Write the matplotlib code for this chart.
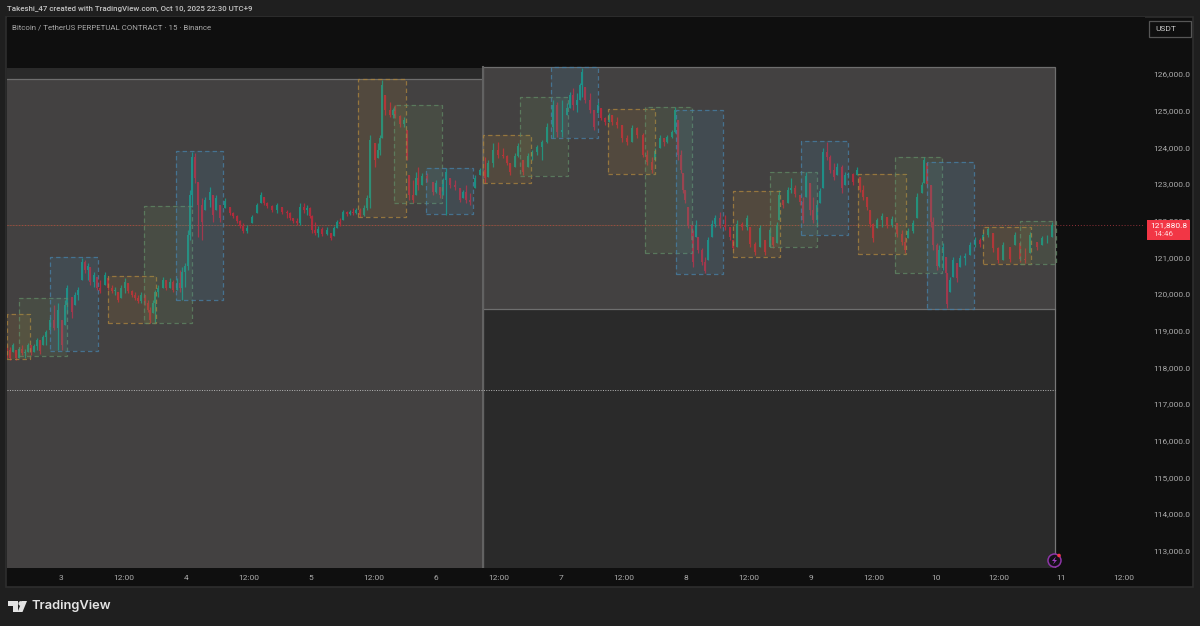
import numpy as np
import matplotlib
matplotlib.use("Agg")
import matplotlib.pyplot as plt
from matplotlib.patches import Rectangle, Polygon, Circle

# 15m BTC candles (day of Oct 2025, price)
bar_day = [2.568,2.592,2.616,2.640,2.664,2.688,2.712,2.736,2.760,2.784,2.808,2.832,2.856,2.880,2.912,2.944,2.976,3.008,3.032,3.048,
    3.088,3.112,3.136,3.168,3.192,3.216,3.232,3.264,3.288,3.312,3.352,3.376,3.408,3.432,3.456,3.480,3.512,3.536,3.568,3.592,
    3.616,3.640,3.672,3.696,3.712,3.736,3.752,3.776,3.816,3.840,3.872,3.896,3.928,3.952,3.968,3.992,4.016,4.032,4.048,4.072,
    4.096,4.128,4.152,4.192,4.216,4.240,4.272,4.312,4.352,4.376,4.408,4.432,4.456,4.488,4.528,4.568,4.600,4.624,4.648,4.688,
    4.728,4.768,4.808,4.832,4.856,4.888,4.912,4.944,4.968,4.992,5.008,5.032,5.056,5.088,5.128,5.160,5.184,5.208,5.232,5.256,
    5.288,5.312,5.336,5.360,5.392,5.424,5.448,5.472,5.512,5.536,5.552,5.568,5.592,5.632,5.656,5.672,5.712,5.744,5.768,5.784,
    5.816,5.840,5.856,5.888,5.928,5.976,6.000,6.032,6.056,6.080,6.112,6.152,6.192,6.216,6.240,6.272,6.312,6.352,6.392,6.416,
    6.456,6.496,6.536,6.568,6.592,6.632,6.656,6.696,6.736,6.768,6.808,6.848,6.888,6.936,6.968,7.008,7.048,7.072,7.096,7.128,
    7.152,7.168,7.192,7.232,7.264,7.296,7.320,7.352,7.384,7.408,7.448,7.488,7.528,7.568,7.608,7.656,7.688,7.728,7.752,7.792,
    7.824,7.848,7.888,7.912,7.936,7.960,7.976,7.992,8.016,8.048,8.056,8.080,8.096,8.128,8.152,8.176,8.208,8.232,8.272,8.312,
    8.352,8.376,8.408,8.448,8.488,8.512,8.552,8.592,8.632,8.672,8.696,8.728,8.744,8.776,8.816,8.840,8.872,8.912,8.936,8.960,
    8.992,9.016,9.048,9.072,9.096,9.128,9.152,9.184,9.208,9.248,9.272,9.296,9.336,9.368,9.392,9.416,9.448,9.472,9.496,9.528,
    9.568,9.608,9.648,9.688,9.728,9.752,9.776,9.816,9.848,9.888,9.904,9.928,9.960,9.976,10.008,10.024,10.056,10.080,10.088,10.112,
    10.136,10.168,10.192,10.232,10.272,10.312,10.352,10.376,10.416,10.456,10.496,10.536,10.592,10.632,10.672,10.712,10.752,10.808,10.848,10.888,
    10.928]
bar_high = [118610,118560,118660,118470,118560,118610,118500,118660,118610,118640,118800,118750,118880,119020,119370,119700,119750,119290,119840,120250,
    119920,120050,120190,120980,120930,120840,120740,120600,120460,120380,120600,120440,120250,120190,120050,120250,120440,120300,120110,120050,
    119970,120050,119970,119840,119650,119840,120110,120250,120460,120380,120440,120380,120440,120650,120740,120840,121740,122830,123870,123840,
    123050,122620,122640,122920,122700,122700,122430,122620,122370,122230,122150,122020,121930,121880,122150,122480,122780,122640,122510,122430,
    122480,122370,122290,122230,122070,122070,122480,122480,122430,122370,122150,121960,121850,121830,121830,121660,121850,122020,122070,122290,
    122260,122290,122340,122340,122340,122430,122700,124330,124110,124110,124330,125830,125420,125230,125070,125150,124880,124820,124470,123240,
    123110,123320,123460,123300,123300,123050,123110,122920,123160,123430,123160,123110,122890,122830,122970,122750,123240,123430,123730,123650,
    124110,124140,123980,123790,123570,123840,124110,123650,123840,123920,124060,124200,124660,125290,125230,125290,125210,125500,125610,125480,
    125750,126160,125640,125480,125010,125230,125070,124820,124930,124880,124820,124600,124330,124600,124550,124390,123920,123730,123980,124330,
    124250,124330,124470,125100,124740,123920,123300,122830,122370,121930,121740,122020,121550,121250,121010,121550,122020,122150,122230,122150,
    121830,121470,122020,121960,122150,121830,121420,121880,121470,121830,121550,121960,122830,122560,122920,123160,122970,122700,122640,123320,
    123020,122640,122560,122890,123980,124140,123790,123570,123570,123520,123320,123320,123300,123460,123190,122970,122640,122290,121930,122070,
    122210,122100,122130,121930,121740,121550,121800,122020,122750,123050,123730,123570,122970,122100,121390,121340,121390,121010,120570,120460,
    121010,120840,121060,121120,121420,121550,121530,121690,121830,121660,121280,121420,121280,121690,121390,121250,121690,121420,121580,121610,
    121960]
bar_low = [118260,118200,118420,118200,118260,118340,118260,118420,118340,118420,118470,118370,118610,118610,119020,119020,118470,118470,119160,119480,
    119350,119700,119840,120380,120570,120380,120250,120190,120110,120030,120250,120110,120030,119970,119780,119890,120030,120030,119920,119840,
    119750,119750,119700,119510,119210,119480,119210,119920,120160,120110,120160,120050,120110,120050,119840,120190,120650,121470,122370,123020,
    121550,121470,122290,122370,121960,122290,121960,122340,122150,122070,121930,121800,121660,121660,121930,122210,122480,122430,122340,122230,
    122210,122180,122070,122020,121930,121880,121880,122210,122150,122070,121660,121610,121550,121590,121610,121470,121590,121800,121850,122020,
    122130,122150,122150,122180,122100,122130,122290,122340,123460,123710,123790,124250,124880,124820,124790,124790,124550,124550,123650,122560,
    122480,122700,122830,122970,123050,122700,122750,122620,122700,122150,122890,122830,122510,122620,122480,122430,122890,123240,123020,123190,
    123460,123710,123710,123520,123240,123460,123730,123240,123460,123650,123790,123650,124110,124250,124280,124280,124880,125070,125010,124960,
    125290,125370,125210,124930,124470,124930,124740,124600,124690,124600,124520,124140,124060,124140,124250,123730,123520,123300,123650,123980,
    124030,124110,124250,124390,123650,123300,122750,122480,121800,121390,120740,121550,121120,120790,120570,120930,121550,121830,121800,121740,
    121470,121200,121280,121740,121740,121280,121060,121280,121060,121280,121250,121390,122020,122340,122480,122750,122640,122430,121930,122640,
    122150,121930,121830,122480,122890,123650,123300,123110,123240,122750,122970,123160,122970,123240,122780,122560,122290,121830,121420,121800,
    121830,121800,121830,121550,121340,121120,121530,121660,122070,122750,123020,122920,121830,121200,120650,120740,120650,120460,119620,120050,
    120460,120330,120740,120790,121060,121280,121280,121470,121550,121140,120840,120930,120870,121340,120870,120840,121120,121200,121340,121390,
    121550]
bar_close = [118470,118260,118610,118260,118500,118390,118420,118610,118420,118580,118750,118450,118830,118960,119290,119070,119560,118610,119700,120160,
    119510,119970,120110,120870,120650,120760,120330,120520,120160,120080,120520,120160,120080,120110,119840,120160,120330,120080,119970,119890,
    119810,119970,119750,119560,119290,119750,120050,120160,120380,120160,120330,120110,120300,120160,120600,120760,121610,122700,123730,123160,
    122430,121960,122560,122780,122150,122620,122070,122530,122210,122130,121990,121850,121720,121800,122100,122430,122700,122480,122400,122290,
    122430,122230,122210,122070,121990,121930,122370,122290,122340,122130,121740,121660,121770,121640,121740,121530,121800,121960,121910,122230,
    122180,122230,122210,122290,122150,122340,122620,124200,123650,123920,124250,125700,125010,124880,125010,124850,124640,124740,123710,122700,
    122560,123160,122970,123220,123110,122780,123020,122700,123110,123320,122970,122920,122560,122780,122560,122510,123160,123380,123160,123570,
    123920,123790,123760,123570,123320,123760,124030,123320,123760,123870,124010,124140,124550,125150,124410,124470,125070,125420,125150,125290,
    125700,126050,125290,125010,124550,125150,124800,124690,124880,124690,124600,124250,124140,124520,124330,123790,123600,123380,123900,124250,
    124140,124280,124410,125010,123790,123380,122830,122560,121880,121470,120870,121880,121200,120870,120630,121470,121910,122070,121880,121830,
    121550,121250,121910,121830,122070,121360,121140,121800,121140,121740,121340,121880,122700,122430,122830,122890,122730,122510,122020,123220,
    122290,122020,122430,122810,123870,123730,123380,123190,123460,122890,123240,123270,123050,123380,122830,122640,122370,121910,121530,122020,
    122130,121880,122040,121640,121420,121200,121720,121930,122640,122970,123650,123000,121960,121340,120760,121200,121280,120570,119730,120380,
    120930,120440,120980,121040,121340,121470,121360,121610,121770,121250,120930,121340,120950,121610,120950,120930,121610,121280,121530,121530,
    121880]

# dashed zones, oldest first, kinds repeat orange / green / blue
zone_kind = ["o","g","b"] * 7 + ["o","g"]
zone_left = [2.568,2.664,2.912,3.376,3.664,3.920,5.376,5.664,5.920,6.376,6.672,6.920,7.376,7.672,7.920,8.376,8.672,8.920,9.376,9.672,9.928,10.376,10.672]
zone_right = [2.752,3.048,3.296,3.760,4.048,4.296,5.760,6.048,6.296,6.760,7.056,7.296,7.752,8.048,8.296,8.752,9.048,9.296,9.760,10.048,10.304,10.760,10.960]
zone_top = [119460,119890,121010,120490,122400,123900,125860,125150,123430,124330,125370,126190,125040,125100,125010,122810,123320,124170,123270,123730,123600,121830,121990]
zone_bottom = [118230,118310,118450,119210,119210,119840,122100,122480,122180,123020,123220,124250,123270,121120,120550,121010,121280,121610,121090,120570,119590,120820,120820]

price_ticks = list(range(113000, 127000, 1000))
time_ticks = [3,3.5,4,4.5,5,5.5,6,6.5,7,7.5,8,8.5,9,9.5,10,10.5,11,11.5]
time_labels = ["3","12:00","4","12:00","5","12:00","6","12:00","7","12:00","8","12:00","9","12:00","10","12:00","11","12:00"]
last_price = 121880
range_mid = 117380

BG = "#1f1f1f"
PANE = "#0f0f0f"
TXT = "#adadad"
plt.rcParams["font.family"] = ["Roboto", "DejaVu Sans"]

W, H = 1200, 626
fig = plt.figure(figsize=(W / 100, H / 100), dpi=100, facecolor=BG)

# dark pane behind axes and scales
fig.patches.append(Rectangle((6 / W, 1 - 587 / H), 1187 / W, 570 / H, transform=fig.transFigure,
                             facecolor=PANE, edgecolor="#2e2e2e", lw=1.2, zorder=-1))

ax = fig.add_axes([7 / W, 1 - 568 / H, 1138 / W, 551 / H], facecolor=PANE)
ax.set_xlim(2.568, 11.672)
ax.set_ylim(112530, 127550)
for s in ax.spines.values():
    s.set_visible(False)

# range boxes, left edges pushed past the axes so they don't show
ax.add_patch(Rectangle((2.568, 112530), 8.384, 126160 - 112530, facecolor="#2a2a2a", edgecolor="none", zorder=1))
ax.add_patch(Rectangle((2.4, 112000), 3.976, 125860 - 112000, facecolor="#434141", edgecolor="#6e6e6e", lw=0.9, zorder=2))
ax.add_patch(Rectangle((6.376, 119590), 4.576, 126190 - 119590, facecolor="#434141", edgecolor="#6e6e6e", lw=0.9, zorder=2))
ax.plot([10.952, 10.952], [112530, 119590], color="#777777", lw=0.9, zorder=2)
ax.plot([6.376, 6.376], [112530, 126190], color="#626262", lw=1.5, zorder=2)

ax.plot([2.568, 10.952], [range_mid, range_mid], color="#b8b8b8", lw=0.7, ls=(0, (1, 1.5)), zorder=3)
ax.plot([2.568, 10.952], [last_price, last_price], color="#6b5a3c", lw=0.8, alpha=0.6, zorder=3)
ax.plot([2.568, 11.672], [last_price, last_price], color="#c8404a", lw=0.7, ls=(0, (1, 2)), alpha=0.7, zorder=3)

# candles
day = np.array(bar_day)
high = np.array(bar_high)
low = np.array(bar_low)
close = np.array(bar_close)
opn = np.clip(np.r_[close[0] + 50, close[:-1]], low, high)
cols = np.where(close >= opn, "#1a9080", "#b02c3c")
gap = np.r_[np.diff(day), 0.03]
ax.vlines(day, low, high, colors=cols, lw=0.9, zorder=4)
ax.bar(day, np.abs(close - opn), bottom=np.minimum(close, opn), width=np.clip(gap * 0.7, 0.012, 0.022),
       color=cols, linewidth=0, zorder=4)

# zones on top, translucent
zone_style = {"o": ("#b8862b", "#a8823e"), "g": ("#6f9a5c", "#5f8563"), "b": ("#3f8fc0", "#477ea3")}
for k, l, r, t, b in zip(zone_kind, zone_left, zone_right, zone_top, zone_bottom):
    fill, edge = zone_style[k]
    ax.add_patch(Rectangle((l, b), r - l, t - b, facecolor=fill, alpha=0.13, edgecolor="none", zorder=5))
    ax.add_patch(Rectangle((l, b), r - l, t - b, fill=False, edgecolor=edge, alpha=0.8, lw=0.9, ls=(0, (3.5, 2.5)), zorder=5))

ax.yaxis.tick_right()
ax.set_yticks(price_ticks)
ax.set_yticklabels([f"{p:,.1f}" for p in price_ticks])
ax.set_xticks(time_ticks)
ax.set_xticklabels(time_labels)
ax.tick_params(axis="y", length=0, pad=6, labelsize=6, labelcolor=TXT)
ax.tick_params(axis="x", length=0, pad=5, labelsize=6, labelcolor=TXT)

# chrome drawn in pixel coordinates
deco = fig.add_axes([0, 0, 1, 1], facecolor="none", zorder=5)
deco.set_xlim(0, W)
deco.set_ylim(H, 0)
deco.axis("off")

deco.text(7, 8.5, "Takeshi_47 created with TradingView.com, Oct 10, 2025 22:30 UTC+9", color="#c4c4c4",
          fontsize=5.7, fontweight="medium", va="center")
deco.text(12, 27, "Bitcoin / TetherUS PERPETUAL CONTRACT · 15 · Binance", color="#a8a8a8", fontsize=5.7, va="center")

deco.add_patch(Rectangle((1149, 21), 42, 16, facecolor=PANE, edgecolor="#565656", lw=0.9))
deco.text(1155, 29, "USDT", color="#c8c8c8", fontsize=6, va="center")

deco.add_patch(Rectangle((1147, 220), 43, 20, facecolor="#f23645", edgecolor="none"))
deco.text(1187.5, 225.5, "121,880.8", color="#ffffff", fontsize=6, va="center", ha="right")
deco.text(1153, 234.5, "14:46", color="#ffd0d4", fontsize=5.8, va="center")

# lightning badge
deco.add_patch(Circle((1054.5, 560.5), 6.5, facecolor="#141018", edgecolor="#8e35a8", lw=1.1))
deco.add_patch(Polygon([[1056, 556.5], [1052, 561], [1054.5, 561], [1053, 564.5], [1057, 560], [1054.5, 560]],
                       facecolor="#a040c0", edgecolor="none"))
deco.add_patch(Circle((1059, 555.5), 1.8, facecolor="#f23645", edgecolor="none"))

# logo and wordmark
logo = "#e4e4e4"
deco.add_patch(Polygon([[8, 601], [18, 601], [18, 612], [13, 612], [13, 606], [8, 606]], facecolor=logo, edgecolor="none"))
deco.add_patch(Circle((20.8, 603.5), 2.4, facecolor=logo, edgecolor="none"))
deco.add_patch(Polygon([[27, 601], [22.5, 612], [17.6, 612], [22, 601]], facecolor=logo, edgecolor="none"))
deco.text(32, 606, "TradingView", color=logo, fontsize=9.3, fontweight="semibold", va="center",
          family=["Inter", "DejaVu Sans"])

fig.savefig("out.png", dpi=100, facecolor=BG)
